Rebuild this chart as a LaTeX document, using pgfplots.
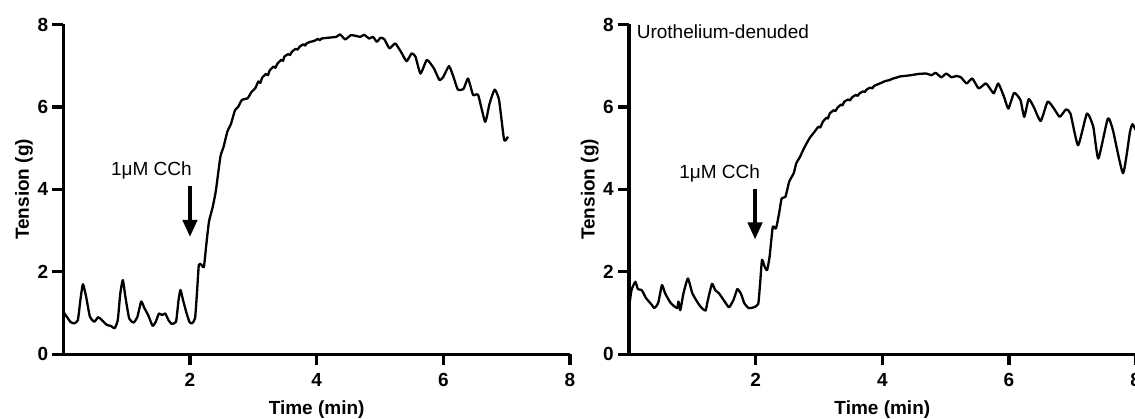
\documentclass[border=0pt]{standalone}
\usepackage{fontspec}
\setmainfont{Liberation Sans}
\usepackage{pgfplots}
\pgfplotsset{compat=1.18}
\usetikzlibrary{arrows.meta}

\newcommand{\bigfont}{\fontsize{19}{23}\selectfont}

\pgfplotsset{
  trace/.style={
    scale only axis, width=506.7pt, height=329.8pt,
    xmin=0, xmax=8, ymin=0, ymax=8,
    axis lines=left, axis line style={line width=3.3pt, -},
    xtick={2,4,6,8}, ytick={0,2,4,6,8},
    tick align=outside, major tick length=11pt,
    tick style={line width=3.3pt, black},
    /pgf/number format/assume math mode=true,
    tick label style={font=\bigfont\bfseries, inner sep=0pt},
    xticklabel style={anchor=center, yshift=-15pt},
    yticklabel style={anchor=east, xshift=-4pt},
    label style={font=\bigfont\bfseries},
    xlabel={Time (min)}, ylabel={Tension (g)},
    xlabel style={at={(axis description cs:0.5,-0.1689)}, anchor=center},
    ylabel style={at={(axis description cs:-0.0776,0.5)}, anchor=center},
    clip=false,
  },
  curve/.style={black, line width=2.3pt, line join=round, smooth, tension=0.3},
}

\begin{document}
\begin{tikzpicture}
\path[use as bounding box] (0,0) rectangle (1135pt,419pt);

\begin{axis}[trace, at={(63.3pt,64.7pt)}, anchor=south west]
\addplot[curve] coordinates {
(0,1.03)(0.06,0.9)(0.11,0.79)(0.17,0.75)(0.23,0.83)(0.27,1.32)(0.31,1.70)
(0.36,1.40)(0.42,0.91)(0.49,0.79)(0.55,0.90)(0.61,0.83)(0.69,0.71)(0.75,0.69)
(0.81,0.63)(0.86,0.83)(0.90,1.48)(0.94,1.80)(0.98,1.40)(1.04,0.87)(1.11,0.77)
(1.17,0.91)(1.23,1.28)(1.28,1.12)(1.34,0.95)(1.41,0.69)(1.46,0.79)(1.51,0.99)
(1.56,0.95)(1.61,0.99)(1.66,0.83)(1.71,0.74)(1.78,0.79)(1.82,1.32)(1.85,1.56)
(1.89,1.32)(1.94,1.03)(1.99,0.79)(2.03,0.75)(2.08,0.87)(2.11,1.48)(2.14,2.17)
(2.18,2.17)(2.22,2.12)(2.26,2.69)(2.30,3.22)(2.36,3.58)(2.41,3.98)(2.48,4.79)
(2.53,5.03)(2.59,5.40)(2.65,5.60)(2.71,5.92)(2.76,6.00)(2.82,6.17)(2.91,6.21)
(2.97,6.36)(3.03,6.45)(3.08,6.62)(3.11,6.58)(3.14,6.71)(3.20,6.80)(3.23,6.77)
(3.26,6.89)(3.32,6.98)(3.35,6.95)(3.38,7.05)(3.44,7.14)(3.47,7.12)(3.49,7.22)
(3.55,7.28)(3.58,7.26)(3.61,7.34)(3.67,7.41)(3.70,7.39)(3.73,7.46)(3.79,7.52)
(3.82,7.49)(3.84,7.54)(3.90,7.58)(3.96,7.60)(4.02,7.65)(4.05,7.62)(4.08,7.66)
(4.19,7.68)(4.31,7.70)(4.37,7.76)(4.45,7.64)(4.54,7.74)(4.63,7.72)(4.69,7.70)
(4.75,7.75)(4.83,7.66)(4.89,7.70)(4.95,7.58)(5.01,7.68)(5.07,7.64)(5.15,7.42)
(5.24,7.54)(5.33,7.34)(5.42,7.11)(5.50,7.30)(5.56,7.22)(5.64,6.81)(5.74,7.14)
(5.85,6.94)(5.94,6.65)(6.00,6.73)(6.09,6.99)(6.16,6.73)(6.23,6.42)(6.32,6.44)
(6.39,6.69)(6.47,6.29)(6.55,6.29)(6.66,5.64)(6.73,6.08)(6.81,6.42)(6.88,6.17)
(6.96,5.20)(7.02,5.28)
};
\node[font=\bigfont, inner sep=0pt] at (axis cs:1.39,4.47) {1μM CCh};
\draw[line width=3.3pt, -{Triangle[width=14.5pt,length=17pt]}]
  (axis cs:2,4.08) -- (axis cs:2,2.85);
\end{axis}

\begin{axis}[trace, at={(629pt,64.7pt)}, anchor=south west]
\addplot[curve] coordinates {
(0.0,1.1)(0.01,1.24)(0.04,1.56)(0.10,1.76)(0.14,1.58)(0.20,1.56)(0.27,1.36)
(0.36,1.20)(0.40,1.12)(0.46,1.24)(0.52,1.68)(0.57,1.48)(0.66,1.24)(0.76,1.12)
(0.78,1.28)(0.81,1.07)(0.86,1.48)(0.93,1.84)(1.00,1.48)(1.09,1.24)(1.15,1.12)
(1.21,1.06)(1.24,1.28)(1.31,1.71)(1.36,1.56)(1.42,1.48)(1.51,1.28)(1.58,1.14)
(1.65,1.32)(1.71,1.58)(1.77,1.46)(1.82,1.24)(1.89,1.12)(1.97,1.14)(2.04,1.22)
(2.07,1.72)(2.10,2.29)(2.14,2.13)(2.18,2.04)(2.22,2.37)(2.27,3.09)(2.32,3.05)
(2.37,3.42)(2.41,3.78)(2.47,3.82)(2.53,4.19)(2.60,4.39)(2.64,4.63)(2.70,4.79)
(2.76,4.99)(2.85,5.24)(2.93,5.40)(2.99,5.52)(3.02,5.50)(3.06,5.64)(3.12,5.74)
(3.14,5.72)(3.17,5.84)(3.23,5.92)(3.26,5.90)(3.29,5.98)(3.35,6.06)(3.37,6.04)
(3.40,6.13)(3.46,6.18)(3.49,6.16)(3.52,6.23)(3.58,6.29)(3.61,6.27)(3.64,6.33)
(3.70,6.38)(3.72,6.36)(3.75,6.42)(3.81,6.47)(3.84,6.45)(3.87,6.51)(3.93,6.55)
(3.99,6.59)(4.05,6.63)(4.11,6.65)(4.17,6.69)(4.22,6.71)(4.28,6.74)(4.34,6.75)
(4.45,6.77)(4.57,6.80)(4.69,6.81)(4.78,6.77)(4.84,6.83)(4.93,6.72)(5.01,6.81)
(5.09,6.72)(5.17,6.75)(5.24,6.72)(5.33,6.57)(5.42,6.69)(5.52,6.45)(5.63,6.57)
(5.69,6.47)(5.76,6.33)(5.83,6.57)(5.92,6.25)(5.99,5.96)(6.08,6.34)(6.18,6.17)
(6.24,5.76)(6.31,6.19)(6.39,6.00)(6.50,5.66)(6.61,6.13)(6.71,5.96)(6.80,5.76)
(6.90,5.94)(6.97,5.84)(7.09,5.07)(7.23,5.84)(7.33,5.52)(7.41,4.75)(7.56,5.72)
(7.64,5.44)(7.80,4.39)(7.91,5.40)(7.95,5.58)(8.0,5.44)
};
\node[font=\bigfont, inner sep=0pt] at (axis cs:1.43,4.39) {1μM CCh};
\draw[line width=3.3pt, -{Triangle[width=14.5pt,length=17pt]}]
  (axis cs:1.99,4.0) -- (axis cs:1.99,2.79);
\node[font=\bigfont, inner sep=0pt, anchor=west] at (axis cs:0.12,7.83) {Urothelium-denuded};
\end{axis}
\end{tikzpicture}
\end{document}
